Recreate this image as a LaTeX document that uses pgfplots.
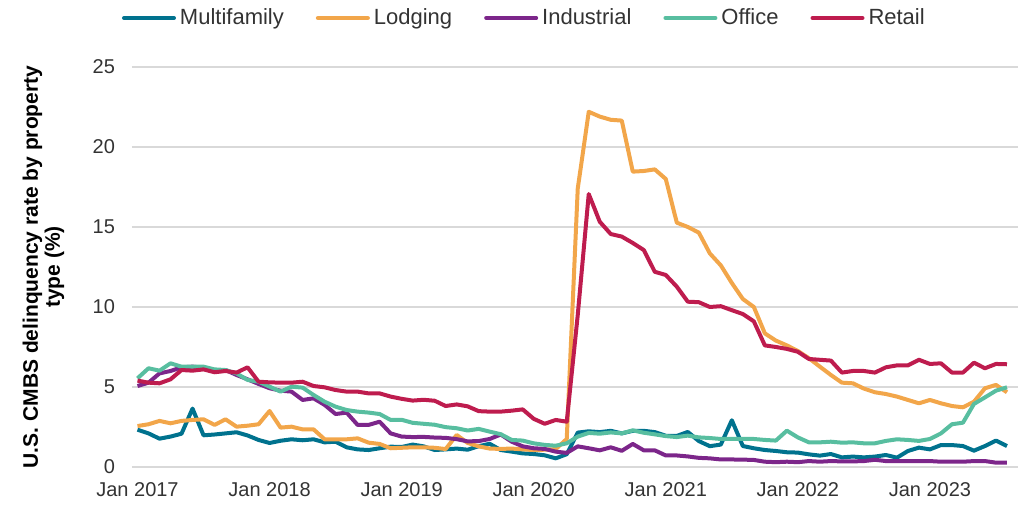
\documentclass[border=0pt]{standalone}
\usepackage{fontspec}
\setmainfont{Liberation Sans}
\usepackage{pgfplots}
\usepackage{pgfplotstable}
\pgfplotsset{compat=1.18}
\definecolor{cMF}{RGB}{0,114,142}
\definecolor{cLO}{RGB}{242,166,74}
\definecolor{cIN}{RGB}{124,38,138}
\definecolor{cOF}{RGB}{88,190,160}
\definecolor{cRE}{RGB}{190,28,78}
\definecolor{txt}{RGB}{51,51,51}
\pgfplotstableread{
m mf lo in of re
0 2.33 2.56 5.06 5.54 5.40
1 2.10 2.67 5.27 6.17 5.27
2 1.77 2.88 5.85 6.02 5.23
3 1.90 2.73 6.00 6.48 5.48
4 2.08 2.88 6.23 6.27 6.06
5 3.65 2.94 6.27 6.27 6.02
6 1.98 2.98 6.21 6.27 6.10
7 2.03 2.63 6.02 6.10 5.92
8 2.10 2.98 6.06 6.06 6.00
9 2.17 2.52 5.75 5.85 5.90
10 1.97 2.58 5.48 5.44 6.23
11 1.69 2.67 5.19 5.33 5.33
12 1.50 3.50 4.92 5.02 5.29
13 1.64 2.46 4.77 4.71 5.27
14 1.73 2.52 4.71 5.02 5.27
15 1.67 2.35 4.19 4.96 5.33
16 1.73 2.35 4.29 4.50 5.06
17 1.54 1.73 3.88 4.08 4.98
18 1.58 1.73 3.31 3.77 4.81
19 1.23 1.73 3.40 3.56 4.71
20 1.10 1.79 2.63 3.46 4.71
21 1.06 1.52 2.63 3.40 4.60
22 1.17 1.44 2.83 3.31 4.60
23 1.27 1.17 2.10 2.94 4.40
24 1.25 1.20 1.90 2.95 4.26
25 1.40 1.23 1.87 2.76 4.15
26 1.29 1.23 1.88 2.70 4.20
27 1.06 1.20 1.84 2.64 4.14
28 1.10 1.12 1.82 2.49 3.81
29 1.15 2.00 1.74 2.42 3.91
30 1.08 1.50 1.60 2.28 3.79
31 1.30 1.29 1.62 2.38 3.49
32 1.45 1.15 1.75 2.21 3.46
33 1.06 1.13 2.03 2.05 3.46
34 0.96 1.15 1.58 1.69 3.52
35 0.85 1.10 1.29 1.65 3.60
36 0.81 1.06 1.17 1.48 3.01
37 0.73 1.08 1.13 1.38 2.70
38 0.54 1.12 0.96 1.33 2.94
39 0.80 1.75 0.88 1.48 2.83
40 2.15 17.40 1.29 1.90 9.50
41 2.23 22.20 1.17 2.13 17.06
42 2.18 21.90 1.04 2.08 15.33
43 2.26 21.70 1.23 2.16 14.56
44 2.10 21.65 1.01 2.10 14.40
45 2.26 18.46 1.44 2.29 14.00
46 2.26 18.50 1.04 2.14 13.56
47 2.18 18.60 1.04 2.04 12.20
48 1.95 18.00 0.72 1.93 12.00
49 1.94 15.27 0.72 1.87 11.27
50 2.19 15.00 0.66 1.96 10.33
51 1.62 14.65 0.57 1.85 10.30
52 1.30 13.35 0.54 1.81 10.00
53 1.40 12.60 0.47 1.75 10.05
54 2.92 11.50 0.47 1.75 9.80
55 1.31 10.50 0.46 1.76 9.56
56 1.17 10.00 0.44 1.75 9.10
57 1.06 8.35 0.33 1.69 7.60
58 1.00 7.90 0.30 1.65 7.50
59 0.92 7.60 0.33 2.27 7.38
60 0.90 7.25 0.30 1.85 7.20
61 0.79 6.80 0.37 1.54 6.75
62 0.71 6.27 0.33 1.54 6.70
63 0.81 5.75 0.37 1.58 6.65
64 0.60 5.27 0.35 1.52 5.90
65 0.65 5.23 0.35 1.54 6.00
66 0.60 4.90 0.37 1.48 6.00
67 0.65 4.67 0.45 1.48 5.90
68 0.75 4.56 0.37 1.63 6.23
69 0.58 4.40 0.37 1.73 6.35
70 1.00 4.19 0.37 1.69 6.35
71 1.21 3.98 0.37 1.63 6.70
72 1.10 4.19 0.37 1.75 6.44
73 1.37 3.98 0.33 2.10 6.48
74 1.37 3.81 0.33 2.67 5.90
75 1.31 3.73 0.33 2.77 5.90
76 1.02 4.08 0.37 3.94 6.52
77 1.31 4.92 0.37 4.35 6.17
78 1.65 5.13 0.27 4.77 6.44
79 1.31 4.67 0.27 4.98 6.42
}\data
\begin{document}
\begin{tikzpicture}
\useasboundingbox (0,0) rectangle (512.5pt,253pt);
\begin{axis}[
  at={(66pt,19.5pt)}, anchor=south west,
  scale only axis, width=443pt, height=200pt,
  xmin=-0.5, xmax=80, ymin=0, ymax=25,
  axis line style={draw=none},
  ytick={0,5,10,15,20,25},
  xtick={0,12,24,36,48,60,72},
  xticklabels={Jan 2017,Jan 2018,Jan 2019,Jan 2020,Jan 2021,Jan 2022,Jan 2023},
  major tick length=0pt,
  ymajorgrids, grid style={draw=black!15, line width=0.6pt},
  tick label style={font=\fontsize{10}{12}\selectfont, text=txt},
  /pgf/number format/assume math mode=true,
  yticklabel style={xshift=-5pt},
  xticklabel style={yshift=-4pt},
  ylabel={U.S. CMBS delinquency rate by property\\type (\%)},
  ylabel style={align=center, font=\bfseries\fontsize{10.5}{11}\selectfont, text=black, at={(axis description cs:-0.1,0.5)}, anchor=center},
  legend style={at={(rel axis cs:0.444,1.1225)}, anchor=center, draw=none, fill=none, legend columns=5, font=\fontsize{11}{13}\selectfont, text=txt, /tikz/every even column/.append style={column sep=14pt}},
  legend image code/.code={\draw[#1, line width=2pt, line cap=round] (0pt,0pt) -- (25pt,0pt);},
  every axis plot/.append style={line width=2pt, line join=round},
]
\addplot[cMF] table[x=m, y=mf] {\data};
\addlegendentry{Multifamily}
\addplot[cLO] table[x=m, y=lo] {\data};
\addlegendentry{Lodging}
\addplot[cIN] table[x=m, y=in] {\data};
\addlegendentry{Industrial}
\addplot[cOF] table[x=m, y=of] {\data};
\addlegendentry{Office}
\addplot[cRE] table[x=m, y=re] {\data};
\addlegendentry{Retail}
\end{axis}
\end{tikzpicture}
\end{document}
